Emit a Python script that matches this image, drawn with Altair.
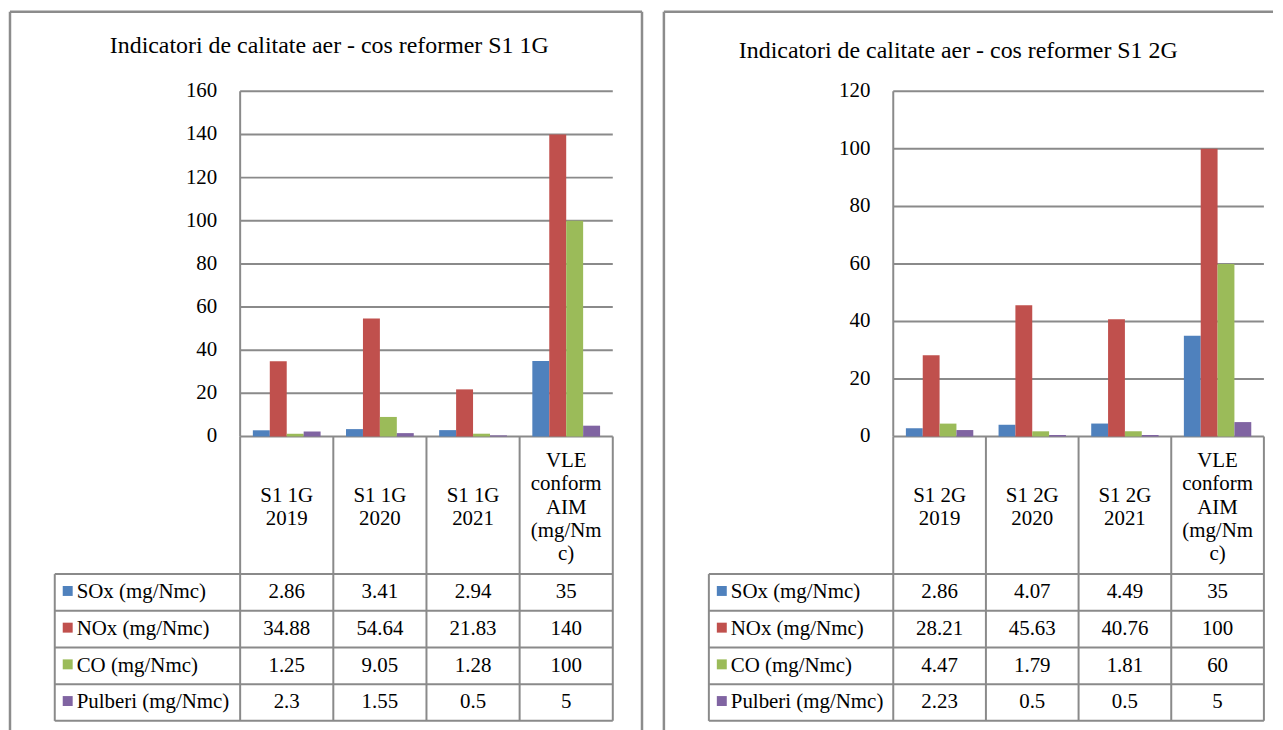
import altair as alt
import pandas as pd

# ---------------- data ----------------
series = ["SOx (mg/Nmc)", "NOx (mg/Nmc)", "CO (mg/Nmc)", "Pulberi (mg/Nmc)"]
series_colors = ["#4F81BD", "#C0504D", "#9BBB59", "#8064A2"]

title_1g = "Indicatori de calitate aer - cos reformer S1 1G"
cats_1g = ["S1 1G\n2019", "S1 1G\n2020", "S1 1G\n2021", "VLE\nconform\nAIM\n(mg/Nm\nc)"]
sox_1g = [2.86, 3.41, 2.94, 35]
nox_1g = [34.88, 54.64, 21.83, 140]
co_1g = [1.25, 9.05, 1.28, 100]
pulberi_1g = [2.3, 1.55, 0.5, 5]
ticks_1g = [0, 20, 40, 60, 80, 100, 120, 140, 160]

title_2g = "Indicatori de calitate aer - cos reformer S1 2G"
cats_2g = ["S1 2G\n2019", "S1 2G\n2020", "S1 2G\n2021", "VLE\nconform\nAIM\n(mg/Nm\nc)"]
sox_2g = [2.86, 4.07, 4.49, 35]
nox_2g = [28.21, 45.63, 40.76, 100]
co_2g = [4.47, 1.79, 1.81, 60]
pulberi_2g = [2.23, 0.5, 0.5, 5]
ticks_2g = [0, 20, 40, 60, 80, 100, 120]

# ---------------- style / layout ----------------
FONT = "Liberation Serif, Times New Roman, Times, serif"
LINE = "#8a8a8a"
BORDER = "#8c8c8c"
H = 712
LEG = -1.99          # left edge of legend column, in column units
HDR = 3.75           # header row height, in table row units
NROWS = HDR + 4
GAP = 0.75 / 5.5     # Excel gap width 150 %
BW = 1 / 5.5
LH = 23.5            # header line height (px)


def panel(title, cats, vals, ticks, geom):
    W = geom["W"]
    row_px = (geom["ybot"] - geom["y0"]) / NROWS
    xs = alt.Scale(domain=[0, 4], range=[geom["axis"], geom["axis"] + 4 * geom["col"]], nice=False, zero=False)
    ys = alt.Scale(domain=[0, ticks[-1]], range=[geom["y0"], geom["ytop"]], nice=False, zero=False)
    ts = alt.Scale(domain=[0, NROWS], range=[geom["y0"], geom["ybot"]], nice=False, zero=False)

    rows = []
    for si, (s, vs) in enumerate(zip(series, vals)):
        for ci, (c, v) in enumerate(zip(cats, vs)):
            rows.append({"series": s, "si": si, "cat": c, "ci": ci, "value": v})
    df = pd.DataFrame(rows)
    tdf = pd.DataFrame({"v": ticks})
    cdf = pd.DataFrame({"cat": cats, "ci": list(range(len(cats))),
                        "nl": [c.count("\n") + 1 for c in cats]})
    sdf = pd.DataFrame({"series": series, "si": list(range(len(series)))})
    color = alt.Color("series:N", scale=alt.Scale(domain=series, range=series_colors), legend=None)

    # ---- value group (y = measured values) ----
    grid = alt.Chart(tdf).transform_calculate(a="0", b="4").mark_rule(
        color=LINE, strokeWidth=2).encode(
        x=alt.X("a:Q", scale=xs, axis=None), x2="b:Q",
        y=alt.Y("v:Q", scale=ys, axis=None))
    yaxis = alt.Chart(pd.DataFrame({"lo": [0], "hi": [ticks[-1]]})).transform_calculate(a="0").mark_rule(
        color=LINE, strokeWidth=2).encode(
        x=alt.X("a:Q", scale=xs, axis=None),
        y=alt.Y("lo:Q", scale=ys, axis=None), y2="hi:Q")
    ylabels = alt.Chart(tdf).transform_calculate(a="0").mark_text(
        align="right", baseline="middle", dx=-23, font=FONT, fontSize=21, color="black").encode(
        x=alt.X("a:Q", scale=xs, axis=None),
        y=alt.Y("v:Q", scale=ys, axis=None),
        text=alt.Text("v:Q"))
    bars = alt.Chart(df).transform_calculate(
        x0=f"datum.ci + {GAP} + datum.si * {BW}",
        x1=f"datum.ci + {GAP} + (datum.si + 1) * {BW}",
        zero="0").mark_rect().encode(
        x=alt.X("x0:Q", scale=xs, axis=None), x2="x1:Q",
        y=alt.Y("value:Q", scale=ys, axis=None), y2="zero:Q",
        color=color)
    value_group = alt.layer(grid, bars, yaxis, ylabels)

    # ---- table group (y = table rows) ----
    hlines = alt.Chart(pd.DataFrame({"r": [HDR + i for i in range(5)]})).transform_calculate(
        a=f"{LEG}", b="4").mark_rule(color=LINE, strokeWidth=2).encode(
        x=alt.X("a:Q", scale=xs, axis=None), x2="b:Q",
        y=alt.Y("r:Q", scale=ts, axis=None))
    vlines = alt.Chart(pd.DataFrame({"c": [0, 1, 2, 3, 4]})).transform_calculate(
        lo="0", hi=f"{NROWS}").mark_rule(color=LINE, strokeWidth=2).encode(
        x=alt.X("c:Q", scale=xs, axis=None),
        y=alt.Y("lo:Q", scale=ts, axis=None), y2="hi:Q")
    legline = alt.Chart(pd.DataFrame({"c": [LEG]})).transform_calculate(
        lo=f"{HDR}", hi=f"{NROWS}").mark_rule(color=LINE, strokeWidth=2).encode(
        x=alt.X("c:Q", scale=xs, axis=None),
        y=alt.Y("lo:Q", scale=ts, axis=None), y2="hi:Q")
    header = alt.Chart(cdf).transform_calculate(
        cx="datum.ci + 0.5",
        cy=f"{HDR / 2} - (datum.nl - 1) * {LH / 2 / row_px}").mark_text(
        align="center", baseline="middle", lineBreak="\n", lineHeight=LH, dy=2.5,
        font=FONT, fontSize=21, color="black").encode(
        x=alt.X("cx:Q", scale=xs, axis=None),
        y=alt.Y("cy:Q", scale=ts, axis=None),
        text="cat:N")
    cells = alt.Chart(df).transform_calculate(
        cx="datum.ci + 0.5", cy=f"{HDR} + datum.si + 0.5").mark_text(
        align="center", baseline="middle", font=FONT, fontSize=21, color="black").encode(
        x=alt.X("cx:Q", scale=xs, axis=None),
        y=alt.Y("cy:Q", scale=ts, axis=None),
        text=alt.Text("value:Q", format="~f"))
    leglabels = alt.Chart(sdf).transform_calculate(
        cx=f"{LEG}", cy=f"{HDR} + datum.si + 0.5").mark_text(
        align="left", baseline="middle", dx=22, font=FONT, fontSize=21, color="black").encode(
        x=alt.X("cx:Q", scale=xs, axis=None),
        y=alt.Y("cy:Q", scale=ts, axis=None),
        text="series:N")
    legkeys = alt.Chart(sdf).transform_calculate(
        cx=f"{LEG} + {13 / geom['col']}", cy=f"{HDR} + datum.si + 0.5 - 0.04").mark_square(
        size=100, opacity=1).encode(
        x=alt.X("cx:Q", scale=xs, axis=None),
        y=alt.Y("cy:Q", scale=ts, axis=None),
        color=color)
    table_group = alt.layer(hlines, vlines, legline, header, cells, leglabels, legkeys)

    # ---- chart area frame and title ----
    one = pd.DataFrame({"k": [0]})
    frame = [
        alt.Chart(one).mark_rule(color=BORDER, strokeWidth=2.5).encode(
            x=alt.value(0), y=alt.value(0), y2=alt.value(H + 20)),
        alt.Chart(one).mark_rule(color=BORDER, strokeWidth=2.5).encode(
            x=alt.value(0), x2=alt.value(W), y=alt.value(0)),
    ]
    if geom["right_border"]:
        frame.append(alt.Chart(one).mark_rule(color=BORDER, strokeWidth=2.5).encode(
            x=alt.value(W), y=alt.value(0), y2=alt.value(H + 20)))
    ttl = alt.Chart(pd.DataFrame({"t": [title]})).mark_text(
        align="center", baseline="alphabetic", font=FONT, fontSize=24, color="black").encode(
        x=alt.value(geom["tx"]), y=alt.value(geom["ty"]), text="t:N")

    return alt.layer(value_group, table_group, *frame, ttl).resolve_scale(
        y="independent").properties(width=W, height=H)


geom_1g = dict(W=635, axis=231.25, col=93.6, y0=426.75, ytop=80, ybot=712.5,
               tx=320.75, ty=41.75, right_border=True)
geom_2g = dict(W=612, axis=230.45, col=93.1, y0=426.75, ytop=80, ybot=712.5,
               tx=295.75, ty=46.75, right_border=False)

left = panel(title_1g, cats_1g, [sox_1g, nox_1g, co_1g, pulberi_1g], ticks_1g, geom_1g)
right = panel(title_2g, cats_2g, [sox_2g, nox_2g, co_2g, pulberi_2g], ticks_2g, geom_2g)

chart = alt.hconcat(left, right, spacing=18).properties(
    padding={"left": 0, "top": 0, "right": 0, "bottom": 0},
    background="white",
).configure_view(stroke=None).configure_concat(spacing=18)

chart.save("out.html", embed_options={"renderer": "svg", "actions": False})
